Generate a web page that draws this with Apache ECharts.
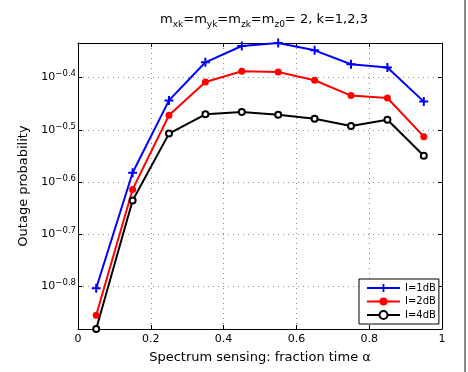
<!DOCTYPE html>
<html>
<head>
<meta charset="utf-8">
<script src="https://cdn.jsdelivr.net/npm/echarts@6/dist/echarts.min.js"></script>
<style>
  html, body { margin: 0; padding: 0; background: #fff; }
  #chart { width: 468px; height: 372px; }
</style>
</head>
<body>
<div id="chart"></div>
<script>
// fraction of time spent on sensing
var alpha = [0.05, 0.15, 0.25, 0.35, 0.45, 0.55, 0.65, 0.75, 0.85, 0.95];

// outage probability
var outage1dB = [0.1574, 0.2618, 0.3600, 0.4258, 0.4575, 0.4636, 0.4489, 0.4222, 0.4161, 0.3581];
var outage2dB = [0.1397, 0.2432, 0.3373, 0.3904, 0.4093, 0.4080, 0.3934, 0.3677, 0.3639, 0.3069];
var outage4dB = [0.1315, 0.2317, 0.3110, 0.3386, 0.3420, 0.3381, 0.3322, 0.3215, 0.3307, 0.2822];

var seriesNames = ['I=1dB', 'I=2dB', 'I=4dB'];
var xTicks = [0, 0.2, 0.4, 0.6, 0.8, 1];

var chart = echarts.init(document.getElementById('chart'));

var FONT = 'DejaVu Sans';
var plus = 'path://M3.5,0h2v3.5h3.5v2h-3.5v3.5h-2v-3.5h-3.5v-2h3.5z';

// y is drawn on log10 of the probability
function toLog(arr) {
	return arr.map(function (v, i) { return [alpha[i], Math.log10(v)]; });
}
var allVals = outage1dB.concat(outage2dB, outage4dB);
var yMin = Math.log10(Math.min.apply(null, allVals));
var yMax = Math.log10(Math.max.apply(null, allVals));

function yLabel(v) {
	return '{b|10}{s|' + v.toFixed(1).replace('-', '\u2212') + '}';
}

var dotted = { show: true, lineStyle: { color: '#8c8c8c', width: 1, type: [1, 4] } };
var box = { show: true, onZero: false, lineStyle: { color: '#000', width: 1 } };
var ticks = { show: true, inside: true, length: 4, lineStyle: { color: '#000' } };

var option = {
	animation: false,
	backgroundColor: '#fff',
	title: {
		text: 'm{s|xk}=m{s|yk}=m{s|zk}=m{s|z0}= 2, k=1,2,3',
		left: 259,
		top: 6,
		textAlign: 'center',
		textStyle: {
			fontFamily: FONT,
			fontSize: 13,
			fontWeight: 'normal',
			color: '#000',
			lineHeight: 18,
			rich: {
				s: { fontFamily: FONT, fontSize: 9, color: '#000', lineHeight: 9, verticalAlign: 'bottom' }
			}
		}
	},
	grid: { left: 78, right: 26, top: 43, bottom: 43, containLabel: false },
	legend: {
		orient: 'vertical',
		left: 359,
		top: 279,
		padding: [4, 3, 4, 7],
		itemWidth: 33,
		itemHeight: 10,
		itemGap: 3.5,
		borderColor: '#000',
		borderWidth: 1,
		backgroundColor: '#fff',
		textStyle: { fontFamily: FONT, fontSize: 10, color: '#000' },
		data: seriesNames
	},
	xAxis: [{
		type: 'value',
		min: 0, max: 1, interval: 0.2,
		name: 'Spectrum sensing: fraction time \u03b1',
		nameLocation: 'middle',
		nameGap: 22,
		nameTextStyle: { fontFamily: FONT, fontSize: 13, color: '#000' },
		axisLine: box,
		axisTick: ticks,
		splitLine: dotted,
		axisLabel: {
			fontFamily: FONT, fontSize: 11, color: '#000', margin: 5,
			formatter: function (v) { return xTicks.indexOf(v) >= 0 ? String(v) : ''; }
		}
	}, {
		type: 'value', position: 'top',
		min: 0, max: 1, interval: 0.2,
		axisLine: box, axisTick: ticks,
		axisLabel: { show: false }, splitLine: { show: false }
	}],
	yAxis: [{
		type: 'value',
		min: yMin, max: yMax,
		name: 'Outage probability',
		nameLocation: 'middle',
		nameGap: 46,
		nameTextStyle: { fontFamily: FONT, fontSize: 13, color: '#000' },
		axisLine: box,
		axisTick: ticks,
		splitLine: dotted,
		axisLabel: {
			showMinLabel: false, showMaxLabel: false,
			margin: 2,
			formatter: yLabel,
			rich: {
				b: { fontFamily: FONT, fontSize: 11, color: '#000', lineHeight: 16, verticalAlign: 'middle' },
				s: { fontFamily: FONT, fontSize: 8.5, color: '#000', lineHeight: 8, verticalAlign: 'top' }
			}
		}
	}, {
		type: 'value', position: 'right',
		min: yMin, max: yMax,
		axisLine: box, axisTick: ticks,
		axisLabel: { show: false }, splitLine: { show: false }
	}],
	series: [{
		name: seriesNames[0],
		type: 'line',
		data: toLog(outage1dB),
		symbol: plus,
		symbolSize: 9,
		color: '#0000ff',
		lineStyle: { width: 2, color: '#0000ff' },
		itemStyle: { color: '#0000ff' }
	}, {
		name: seriesNames[1],
		type: 'line',
		data: toLog(outage2dB),
		symbol: 'circle',
		symbolSize: 7,
		color: '#ff0000',
		lineStyle: { width: 2, color: '#ff0000' },
		itemStyle: { color: '#ff0000' }
	}, {
		name: seriesNames[2],
		type: 'line',
		data: toLog(outage4dB),
		symbol: 'emptyCircle',
		symbolSize: 6,
		color: '#000',
		lineStyle: { width: 2, color: '#000' },
		itemStyle: { color: '#000', borderColor: '#000', borderWidth: 2 }
	}],
	graphic: [{
		type: 'rect',
		shape: { x: 464, y: 0, width: 2, height: 372 },
		style: { fill: '#8a8a8a' },
		silent: true
	}]
};

chart.setOption(option);
</script>
</body>
</html>
